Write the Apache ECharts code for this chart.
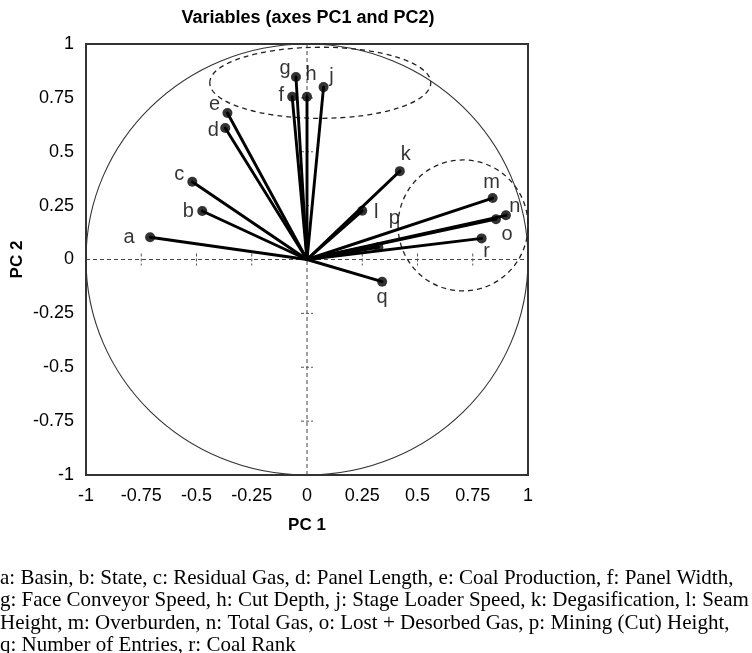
<!DOCTYPE html>
<html><head><meta charset="utf-8">
<script src="https://cdn.jsdelivr.net/npm/echarts@6/dist/echarts.min.js"></script>
<style>html,body{margin:0;padding:0;background:#fff}#c{width:752px;height:653px}</style>
</head><body><div id="c"></div>
<script>
// ---- data ----
const varNames = ['a','b','c','d','e','f','g','h','j','k','l','m','n','o','p','q','r'];
const pc1 = [-0.71,-0.474,-0.519,-0.37,-0.36,-0.067,-0.05,0.0,0.075,0.42,0.25,0.84,0.90,0.855,0.323,0.34,0.79];
const pc2 = [0.103,0.225,0.361,0.61,0.68,0.755,0.847,0.755,0.80,0.41,0.226,0.285,0.205,0.187,0.057,-0.103,0.098];
const zeroTickValues = [-0.75,-0.5,-0.25,0.25,0.5,0.75];
const unitCircle = [[0,0,1,1]];            // cx, cy, rx, ry
const groupEllipses = [[0.06,0.82,0.50,0.165],[0.706,0.158,0.294,0.304]];
const titleText = 'Variables (axes PC1 and PC2)';
const xName = 'PC 1', yName = 'PC 2';
const captionLines = [
  'a: Basin, b: State, c: Residual Gas, d: Panel Length, e: Coal Production, f: Panel Width,',
  'g: Face Conveyor Speed, h: Cut Depth, j: Stage Loader Speed, k: Degasification, l: Seam',
  'Height, m: Overburden, n: Total Gas, o: Lost + Desorbed Gas, p: Mining (Cut) Height,',
  'q: Number of Entries, r: Coal Rank'
];

// ---- styling (label placement relative to the point, px) ----
const labelOffsets = {a:[-21,0],b:[-14,0],c:[-13,-7],d:[-12,2],e:[-13,-8],f:[-11,-1],g:[-11,-8],
  h:[4,-22],j:[8,-11],k:[6,-17],l:[14,2],m:[-1,-16],n:[9,-9],o:[11,15],p:[16,-29],q:[0,16],r:[5,13]};

const GRID = {left:86, right:224, top:44, bottom:178};
const sans = '"Liberation Sans", Arial, Helvetica, sans-serif';
const serif = '"Liberation Serif", "Times New Roman", serif';

const vectors = varNames.map((n,i)=>[pc1[i], pc2[i], n]);

const chart = echarts.init(document.getElementById('c'));
const ellipseRender = (dash, lw, col) => (params, api) => {
  const c = api.coord([api.value(0), api.value(1)]);
  const s = api.size([api.value(2), api.value(3)]);
  return {type:'ellipse', shape:{cx:c[0], cy:c[1], rx:s[0], ry:s[1]},
    style:{fill:null, stroke:col, lineWidth:lw, lineDash:dash}};
};

chart.setOption({
  animation:false,
  backgroundColor:'#fff',
  grid:{...GRID, containLabel:false, outerBoundsMode:'none', show:true,
    borderColor:'#333', borderWidth:2, backgroundColor:'transparent'},
  xAxis:{type:'value', min:-1, max:1, interval:0.25,
    axisLine:{show:false, onZero:false}, axisTick:{show:false}, splitLine:{show:false},
    axisLabel:{color:'#000', fontSize:18, fontFamily:sans, margin:12},
    name:xName, nameLocation:'middle', nameGap:42, nameMoveOverlap:false,
    nameTextStyle:{color:'#000', fontSize:17, fontWeight:'bold', fontFamily:sans}},
  yAxis:{type:'value', min:-1, max:1, interval:0.25,
    axisLine:{show:false, onZero:false}, axisTick:{show:false}, splitLine:{show:false},
    axisLabel:{color:'#000', fontSize:18, fontFamily:sans, margin:12},
    name:yName, nameLocation:'middle', nameGap:60, nameMoveOverlap:false,
    nameTextStyle:{color:'#000', fontSize:17, fontWeight:'bold', fontFamily:sans}},
  graphic:[
    {type:'text', x:308, y:18, style:{text:titleText, fill:'#000',
      font:'bold 18px '+sans, align:'center', verticalAlign:'middle'}},
    ...captionLines.map((t,i)=>({type:'text', x:0, y:578+i*22.5, style:{text:t, fill:'#000',
      font:'21px '+serif, align:'left', verticalAlign:'middle'}}))
  ],
  series:[
    {type:'custom', name:'zero', clip:false, silent:true, data:[[0,0]],
      renderItem:(params, api)=>{
        const l = api.coord([-1,0]), r = api.coord([1,0]), t = api.coord([0,1]), b = api.coord([0,-1]);
        const st = {stroke:'#444', lineWidth:1, lineDash:[4,3]};
        return {type:'group', children:[
          {type:'line', shape:{x1:l[0],y1:l[1],x2:r[0],y2:r[1]}, style:st},
          {type:'line', shape:{x1:t[0],y1:t[1],x2:b[0],y2:b[1]}, style:st}
        ]};
      }},
    {type:'custom', name:'zeroTicks', clip:false, silent:true,
      data:zeroTickValues.map(v=>[v,0]),
      renderItem:(params, api)=>{
        const v = api.value(0);
        const px = api.coord([v,0]), py = api.coord([0,v]);
        const st = {stroke:'#555', lineWidth:1, lineDash:[3,2]};
        return {type:'group', children:[
          {type:'line', shape:{x1:px[0],y1:px[1]-6,x2:px[0],y2:px[1]+6}, style:st},
          {type:'line', shape:{x1:py[0]-6,y1:py[1],x2:py[0]+6,y2:py[1]}, style:st}
        ]};
      }},
    {type:'custom', name:'unit', clip:false, silent:true, data:unitCircle,
      encode:{x:0,y:1}, renderItem:ellipseRender(null, 1.1, '#333')},
    {type:'custom', name:'groups', clip:false, silent:true, data:groupEllipses,
      encode:{x:0,y:1}, renderItem:ellipseRender([5,4], 1.3, '#222')},
    {type:'custom', name:'vectors', clip:false, silent:true, data:vectors,
      encode:{x:0,y:1},
      renderItem:(params, api)=>{
        const o = api.coord([0,0]), p = api.coord([api.value(0), api.value(1)]);
        return {type:'line', shape:{x1:o[0],y1:o[1],x2:p[0],y2:p[1]},
          style:{stroke:'#000', lineWidth:2.9, lineCap:'round'}};
      }},
    {type:'scatter', name:'ends', symbol:'circle', symbolSize:10, silent:true,
      itemStyle:{color:'#000'},
      data:vectors.map(v=>({value:[v[0],v[1]], name:v[2],
        label:{offset:labelOffsets[v[2]]}})),
      label:{show:true, position:'inside', formatter:'{b}', color:'#000',
        fontSize:20, fontFamily:sans}}
  ]
});
</script></body></html>
